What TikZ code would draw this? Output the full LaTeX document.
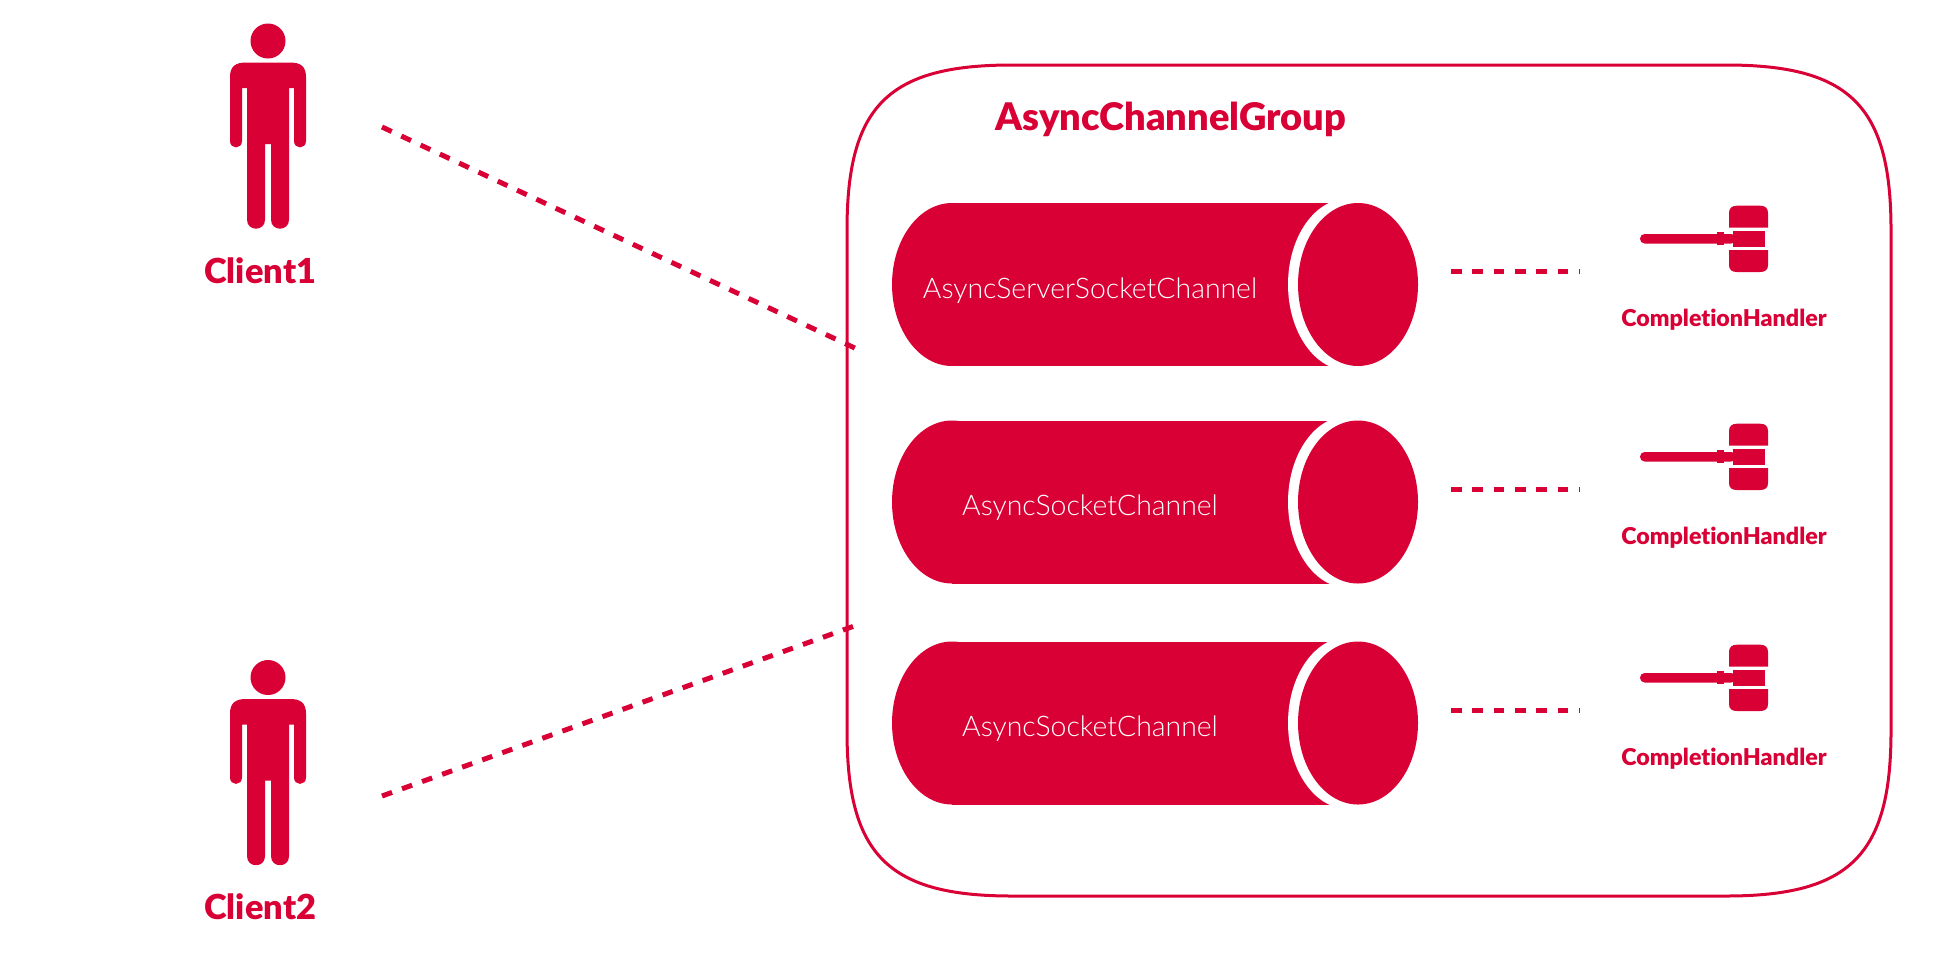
\documentclass[tikz,border=0pt]{standalone}
\usepackage{fontspec}
\setmainfont{Lato Light}
\newfontfamily\headfont{Lato Black}[Ligatures=NoCommon]
\definecolor{brand}{HTML}{D80034}
\tikzset{
  x=0.5pt,y=-0.5pt,
  heading/.style={text=brand,anchor=base,inner sep=0pt,font=\headfont\fontsize{19}{22}\selectfont},
  clientlabel/.style={text=brand,anchor=base west,inner sep=0pt,font=\headfont\fontsize{17.2}{20}\selectfont},
  handlerlabel/.style={text=brand,anchor=base,inner sep=0pt,font=\headfont\fontsize{11.6}{13}\selectfont},
  channellabel/.style={text=white,anchor=base,inner sep=0pt,font=\fontsize{14.2}{16}\selectfont},
  link/.style={draw=brand,line width=2.5pt,dash pattern=on 5.35pt off 5.3pt},
  group/.style={draw=brand,line width=1.5pt,fill=none},
  person/.pic={
    \fill[brand] (268,41) circle[radius=17.5];
    \fill[brand] (230,141) -- (230,77)
      .. controls (230,66) and (236,62.5) .. (246,62.5) -- (290,62.5)
      .. controls (300,62.5) and (306,66) .. (306,77) -- (306,141)
      .. controls (306,149.5) and (294,149.5) .. (294,141) -- (294,88) -- (289,88) -- (289,219.7)
      .. controls (289,231.7) and (271,231.7) .. (271,219.7) -- (271,144) -- (265,144) -- (265,219.7)
      .. controls (265,231.7) and (247,231.7) .. (247,219.7) -- (247,88) -- (242,88) -- (242,141)
      .. controls (242,149.5) and (230,149.5) .. (230,141) -- cycle;
  },
  gavel/.pic={
    \fill[brand,rounded corners=2.3pt] (1640,233) rectangle (1736,242.5);
    \fill[brand] (1717,230.7) rectangle (1724,244);
    \fill[brand] (1733,230) rectangle (1765,245.7);
    \fill[brand] (1729,226.7) -- (1729,212) .. controls (1729,207) and (1732,204.7) .. (1737,204.7)
      -- (1760,204.7) .. controls (1765,204.7) and (1768,207) .. (1768,212) -- (1768,226.7) -- cycle;
    \fill[brand] (1729,249) -- (1729,264) .. controls (1729,269) and (1732,271) .. (1737,271)
      -- (1760,271) .. controls (1765,271) and (1768,269) .. (1768,264) -- (1768,249) -- cycle;
  },
  channel/.pic={
    \fill[brand] (952,283.5) ellipse[x radius=60,y radius=81.5];
    \fill[brand] (952,202) rectangle (1358,365);
    \fill[white] (1348,283.5) ellipse[x radius=60,y radius=86];
    \fill[brand] (1358,283.5) ellipse[x radius=60,y radius=81.5];
  },
}
\begin{document}
\begin{tikzpicture}
\useasboundingbox (0,0) rectangle (1946,970);

% channel group outline
\draw[group] (1012,65) -- (1726,65)
  .. controls (1850,65) and (1891,106) .. (1891,230) -- (1891,731)
  .. controls (1891,855) and (1850,896) .. (1726,896) -- (1012,896)
  .. controls (888,896) and (847,855) .. (847,731) -- (847,230)
  .. controls (847,106) and (888,65) .. (1012,65) -- cycle;
\node[heading] (title) at (1171,130) {AsyncChannelGroup};

% clients
\pic at (0,0) {person};
\pic at (0,636.5) {person};
\node[clientlabel] (client1) at (204,283) {Client1};
\node[clientlabel] (client2) at (204,919) {Client2};

% channels
\pic at (0,1) {channel};
\pic at (0,218.5) {channel};
\pic at (0,439.5) {channel};
\node[channellabel] (c1) at (1090,298) {AsyncServerSocketChannel};
\node[channellabel] (c2) at (1090,515) {AsyncSocketChannel};
\node[channellabel] (c3) at (1090,736) {AsyncSocketChannel};

% completion handlers
\pic at (0,1) {gavel};
\pic at (0,219) {gavel};
\pic at (0,440) {gavel};
\node[handlerlabel] (h1) at (1724,326) {CompletionHandler};
\node[handlerlabel] (h2) at (1724,544) {CompletionHandler};
\node[handlerlabel] (h3) at (1724,765) {CompletionHandler};

% dashed links
\coordinate (p1) at (382,127);
\coordinate (g1) at (859,350);
\coordinate (p2) at (382,796);
\coordinate (g2) at (857,625);
\draw[link] (p1) -- (g1);
\draw[link] (p2) -- (g2);
\coordinate (a1) at (1451,271);
\coordinate (b1) at (1579,271);
\coordinate (a2) at (1451,489);
\coordinate (b2) at (1579,489);
\coordinate (a3) at (1451,710);
\coordinate (b3) at (1579,710);
\draw[link] (a1) -- (b1);
\draw[link] (a2) -- (b2);
\draw[link] (a3) -- (b3);
\end{tikzpicture}
\end{document}
